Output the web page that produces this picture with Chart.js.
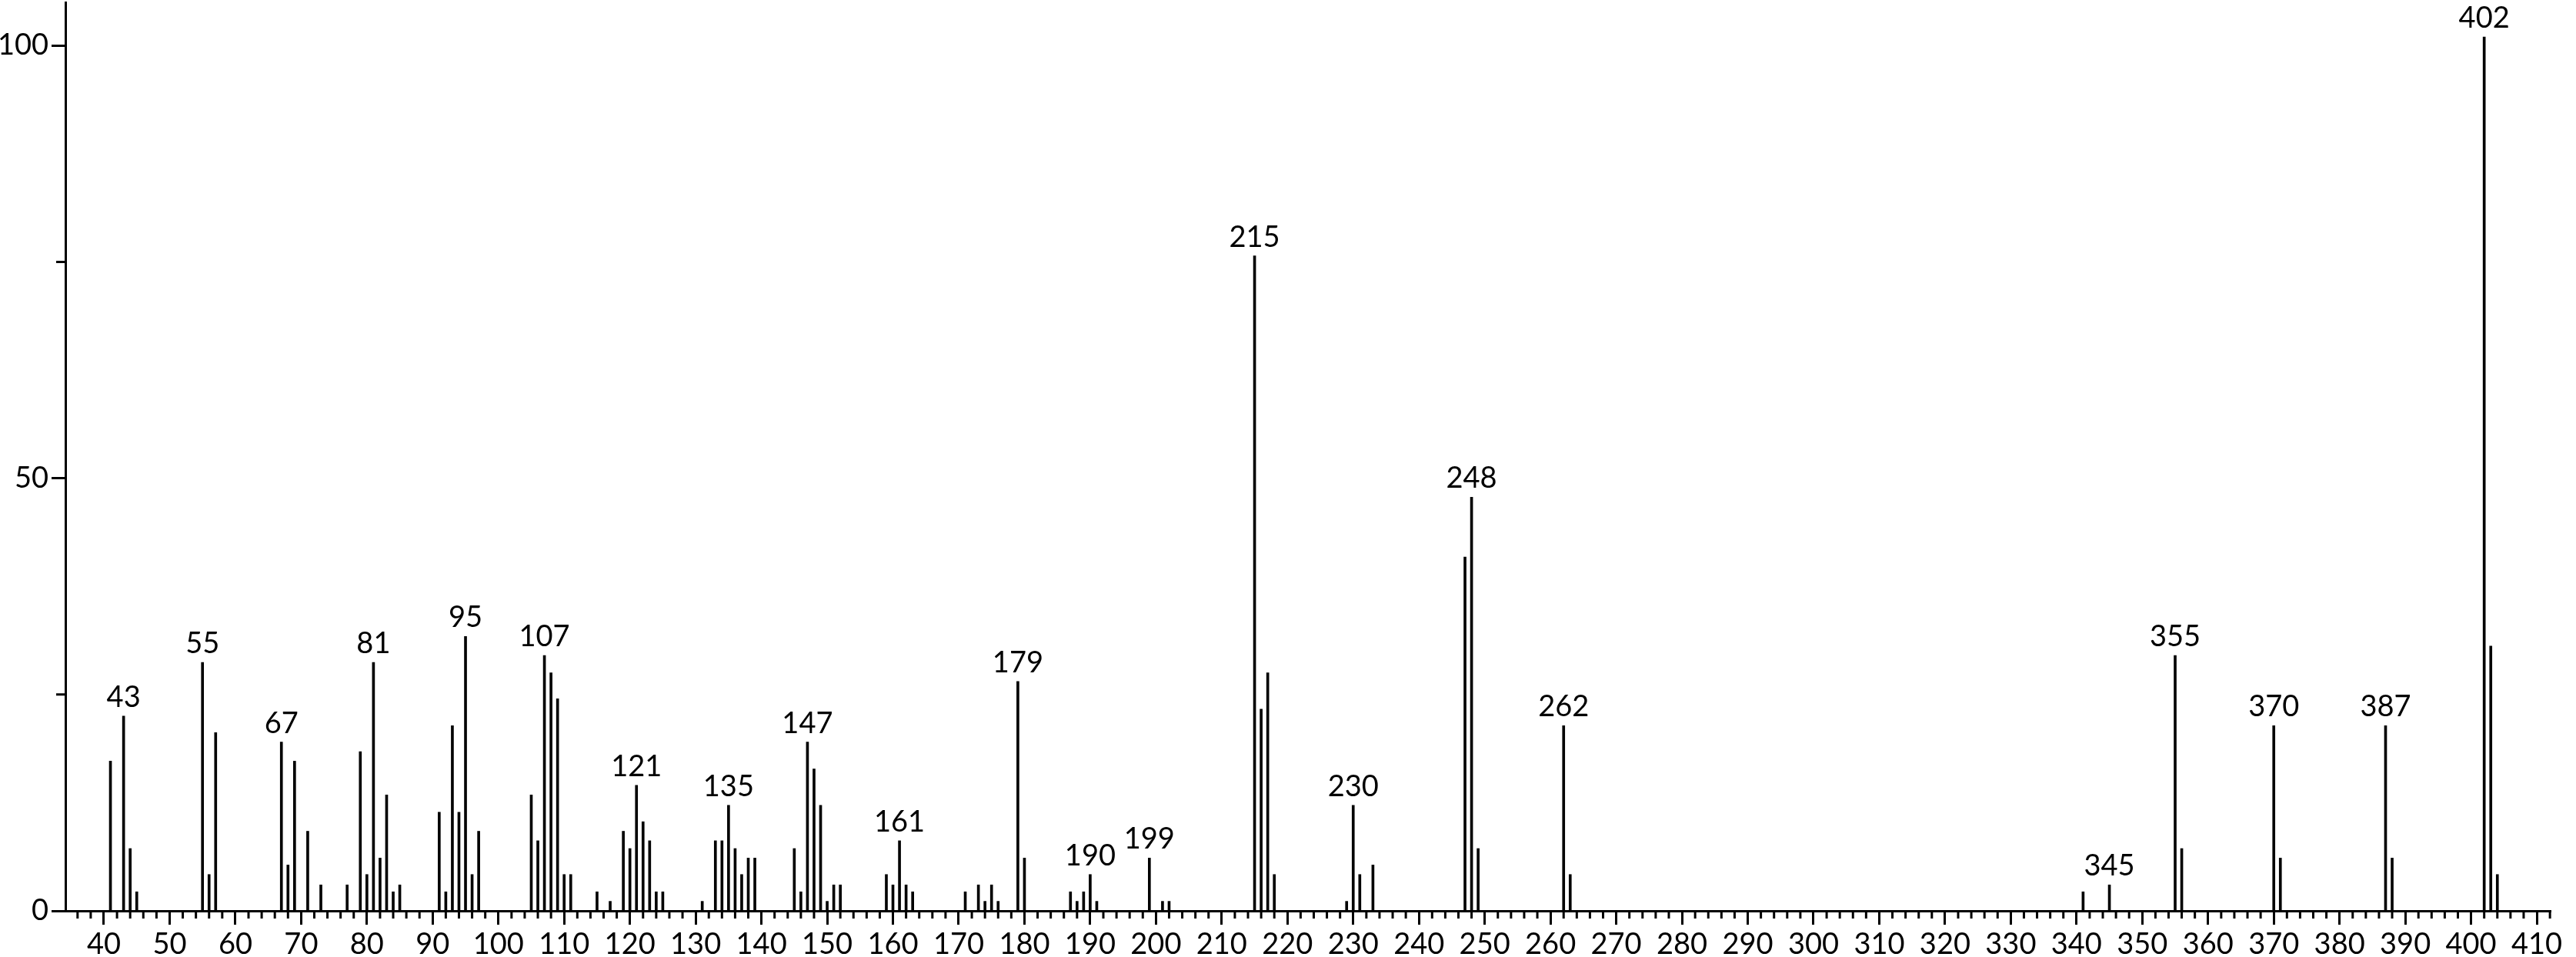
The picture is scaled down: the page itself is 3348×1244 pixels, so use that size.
<!DOCTYPE html>
<html>
<head>
<meta charset="utf-8">
<script src="https://cdn.jsdelivr.net/npm/chart.js@4"></script>
<style>
  html, body { margin: 0; padding: 0; background: #fff; }
  #wrap { width: 3348px; height: 1244px; position: relative; }
</style>
</head>
<body>
<div id="wrap"><canvas id="spectrum"></canvas></div>
<script>
// m/z values and relative intensities
const masses = [
    41, 43, 44, 45, 55, 56, 57, 67, 68, 69, 71, 73, 77, 79, 80, 81, 82, 83, 84, 85,
    91, 92, 93, 94, 95, 96, 97, 105, 106, 107, 108, 109, 110, 111, 115, 117, 119, 120,
    121, 122, 123, 124, 125, 131, 133, 134, 135, 136, 137, 138, 139, 145, 146, 147,
    148, 149, 150, 151, 152, 159, 160, 161, 162, 163, 171, 173, 174, 175, 176, 179,
    180, 187, 188, 189, 190, 191, 199, 201, 202, 215, 216, 217, 218, 229, 230, 231,
    233, 247, 248, 249, 262, 263, 341, 345, 355, 356, 370, 371, 387, 388, 402, 403, 404
];
const intensities = [
    17.3, 22.5, 7.2, 2.2, 28.7, 4.2, 20.6, 19.5, 5.3, 17.3, 9.2, 3.0, 3.0, 18.4, 4.2, 28.7, 6.1, 13.4, 2.2, 3.0,
    11.4, 2.2, 21.4, 11.4, 31.7, 4.2, 9.2, 13.4, 8.1, 29.5, 27.5, 24.5, 4.2, 4.2, 2.2, 1.1, 9.2, 7.2,
    14.5, 10.3, 8.1, 2.2, 2.2, 1.1, 8.1, 8.1, 12.2, 7.2, 4.2, 6.1, 6.1, 7.2, 2.2, 19.5,
    16.4, 12.2, 1.1, 3.0, 3.0, 4.2, 3.0, 8.1, 3.0, 2.2, 2.2, 3.0, 1.1, 3.0, 1.1, 26.5,
    6.1, 2.2, 1.1, 2.2, 4.2, 1.1, 6.1, 1.1, 1.1, 75.7, 23.3, 27.5, 4.2, 1.1, 12.2, 4.2,
    5.3, 40.9, 47.8, 7.2, 21.4, 4.2, 2.2, 3.0, 29.5, 7.2, 21.4, 6.1, 21.4, 6.1, 101, 30.6, 4.2
];
// peaks that carry an m/z label
const labeledMasses = [43, 55, 67, 81, 95, 107, 121, 135, 147, 161, 179, 190, 199, 215, 230, 248, 262, 345, 355, 370, 387, 402];

const xMajorTicks = [40, 50, 60, 70, 80, 90, 100, 110, 120, 130, 140, 150, 160, 170, 180, 190, 200, 210, 220, 230,
    240, 250, 260, 270, 280, 290, 300, 310, 320, 330, 340, 350, 360, 370, 380, 390, 400, 410];
const yMajorTicks = [0, 50, 100];
const yMinorTicks = [25, 75];

const FONT = { family: "Lato, 'DejaVu Sans', sans-serif", size: 38 };

///////////////////////////
// PLUGINS
///////////////////////////

// short ticks every 2 units on x, at 25 / 75 on y
const minorTicks = {
    id: "minorTicks",
    afterDraw(chart) {
        const ctx = chart.ctx;
        const xs = chart.scales.x;
        const ys = chart.scales.y;
        const base = chart.chartArea.bottom;
        const left = chart.chartArea.left;
        ctx.save();
        ctx.strokeStyle = "#000";
        ctx.lineWidth = 3;
        ctx.beginPath();
        for (let v = Math.ceil(xs.min / 2) * 2; v <= xs.max; v += 2) {
            if (v % 10 === 0) continue;
            const px = xs.getPixelForValue(v);
            ctx.moveTo(px, base);
            ctx.lineTo(px, base + 10);
        }
        yMinorTicks.forEach(v => {
            const py = ys.getPixelForValue(v);
            ctx.moveTo(left, py);
            ctx.lineTo(left - 12, py);
        });
        ctx.stroke();
        ctx.restore();
    }
};

// m/z labels above the labelled peaks
const peakLabels = {
    id: "peakLabels",
    afterDatasetsDraw(chart) {
        const ctx = chart.ctx;
        const meta = chart.getDatasetMeta(0);
        ctx.save();
        ctx.fillStyle = "#000";
        ctx.font = `${FONT.size}px ${FONT.family}`;
        ctx.textAlign = "center";
        ctx.textBaseline = "alphabetic";
        labeledMasses.forEach(m => {
            const i = masses.indexOf(m);
            if (i < 0) return;
            const bar = meta.data[i];
            ctx.fillText(String(m), bar.x, bar.y - 12);
        });
        ctx.restore();
    }
};

// keep the label overhang from pushing the plot area in
function noPadding(scale) {
    scale.paddingTop = 0;
    scale.paddingBottom = 0;
    scale.paddingLeft = 0;
    scale.paddingRight = 0;
}

///////////////////////////
// CHART
///////////////////////////

const ctx = document.getElementById("spectrum").getContext("2d");

new Chart(ctx, {
    type: "bar",
    data: {
        datasets: [{
            data: masses.map((m, i) => ({ x: m, y: intensities[i] })),
            backgroundColor: "#000",
            borderWidth: 0,
            barThickness: 3
        }]
    },
    options: {
        responsive: true,
        maintainAspectRatio: false,
        animation: false,
        events: [],
        layout: { padding: { top: 3, right: 33, bottom: 0, left: 0 } },
        plugins: {
            legend: { display: false },
            tooltip: { enabled: false }
        },
        scales: {
            x: {
                type: "linear",
                offset: false,
                min: 34.15,
                max: 412.1,
                afterBuildTicks: scale => { scale.ticks = xMajorTicks.map(v => ({ value: v })); },
                afterFit: scale => { scale.height = 60; noPadding(scale); },
                grid: {
                    offset: false,
                    drawOnChartArea: false,
                    drawTicks: true,
                    tickLength: 18,
                    tickWidth: 3,
                    tickColor: "#000"
                },
                border: { display: true, color: "#000", width: 3 },
                ticks: {
                    autoSkip: false,
                    maxRotation: 0,
                    padding: 3,
                    color: "#000",
                    font: FONT
                }
            },
            y: {
                min: 0,
                max: 105,
                afterBuildTicks: scale => { scale.ticks = yMajorTicks.map(v => ({ value: v })); },
                afterFit: scale => { scale.width = 85; noPadding(scale); },
                grid: {
                    drawOnChartArea: false,
                    drawTicks: true,
                    tickLength: 18,
                    tickWidth: 3,
                    tickColor: "#000"
                },
                border: { display: true, color: "#000", width: 3 },
                ticks: {
                    padding: 4,
                    color: "#000",
                    font: FONT
                }
            }
        }
    },
    plugins: [minorTicks, peakLabels]
});
</script>
</body>
</html>
